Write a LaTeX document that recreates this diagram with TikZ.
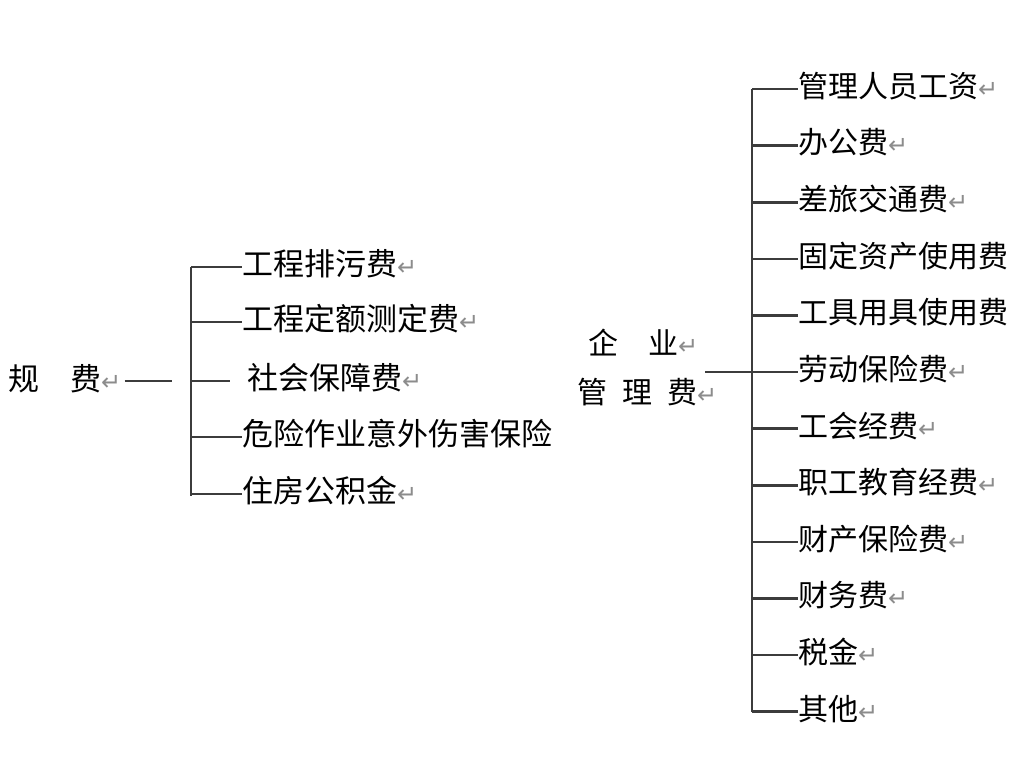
\documentclass[tikz,border=0pt]{standalone}
\usepackage{fontspec}
\usepackage{xcolor}
\usetikzlibrary{positioning}
\newfontfamily\cjk{Noto Sans CJK SC}
\newfontfamily\symfont{DejaVu Sans}
\definecolor{LineGray}{HTML}{3C3C3C}
\definecolor{MarkGray}{HTML}{8C8C8C}
\newcommand{\parmark}{{\symfont\fontsize{24}{24}\selectfont\textcolor{MarkGray}{↵}}}
\tikzset{
  item/.style={anchor=west,inner sep=0pt,font=\cjk\fontsize{30}{30}\selectfont},
  wide item/.style={item,font=\cjk\fontsize{31}{31}\selectfont},
  branch/.style={draw=LineGray,line width=2.6pt},
}

\begin{document}
\begin{tikzpicture}[x=1pt,y=-1pt]
\useasboundingbox (0,0) rectangle (1024,768);
% left group
\node[wide item] (gf) at (8,379) {规\hspace{1em}费\parmark};
\coordinate (gfend) at (172,381);
\coordinate (ltop) at (191,267);
\coordinate (lbot) at (191,496);
\draw[branch] (ltop) -- (lbot);
\draw[branch] ([xshift=3pt]gf.east |- gfend) -- (gfend);
\foreach \y/\s/\t [count=\i] in {267/0/工程排污费\parmark,
    322/0/工程定额测定费\parmark,
    381/12/\hspace{5pt}社会保障费\parmark,
    437/0/危险作业意外伤害保险,
    494/0/住房公积金\parmark}{
  \coordinate (lb\i) at (191,\y);
  \node[wide item] (l\i) at (242,\y-3) {\t};
  \draw[branch,shorten >=\s pt] (lb\i) -- (l\i.west |- lb\i);
}
% right group
\node[item] (qy) at (588,343) {企\hspace{1em}业\parmark};
\node[item] (glf) at (577,392) {管\hspace{0.5em}理\hspace{0.5em}费\parmark};
\coordinate (glfend) at (705,372);
\coordinate (rtop) at (752,89);
\coordinate (rbot) at (752,712);
\draw[branch] (rtop) -- (rbot);
\foreach \t [count=\i] in {管理人员工资\parmark, 办公费\parmark,
    差旅交通费\parmark, 固定资产使用费, 工具用具使用费,
    劳动保险费\parmark, 工会经费\parmark, 职工教育经费\parmark,
    财产保险费\parmark, 财务费\parmark, 税金\parmark, 其他\parmark}{
  \coordinate (rb\i) at (752,{89+(\i-1)*56.6});
  \node[item] (r\i) at (798,{86+(\i-1)*56.6}) {\t};
  \draw[branch] (rb\i) -- (r\i.west |- rb\i);
}
\draw[branch,shorten >=10pt] (glfend) -- (r6.west |- glfend);
\end{tikzpicture}
\end{document}
